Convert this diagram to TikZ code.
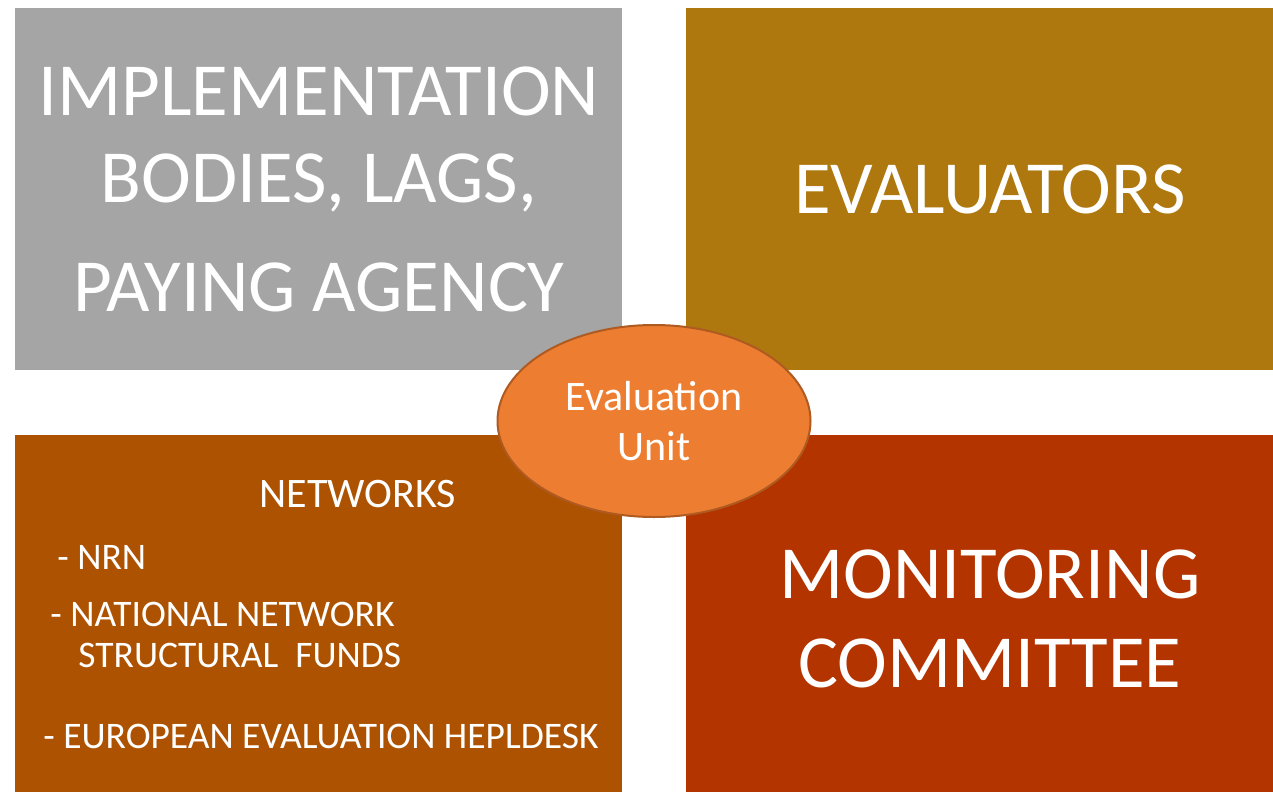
\documentclass[tikz,border=0pt]{standalone}
\usepackage{fontspec}
\setmainfont{Carlito}
\usepackage{xcolor}
\usetikzlibrary{shapes.geometric,positioning}
\definecolor{boxgray}{HTML}{A5A5A5}
\definecolor{boxgold}{HTML}{AE780E}
\definecolor{boxbrown}{HTML}{AD5200}
\definecolor{boxred}{HTML}{B43400}
\definecolor{unitorange}{HTML}{ED7D31}
\definecolor{unitedge}{HTML}{AE5A21}

\begin{document}
\begin{tikzpicture}[x=0.5pt, y=-0.5pt, text=white,
  every node/.style={inner sep=0pt},
  block/.style={anchor=north west, minimum width=303.5pt, minimum height=181pt, align=center},
  bigtext/.style={font=\fontsize{37.5}{43.5}\selectfont, align=center},
  listitem/.style={anchor=base west, font=\fontsize{18.75}{22}\selectfont}]
  \useasboundingbox (0,0) rectangle (1273,792);
  % Boxes
  \node[block, fill=boxgray, bigtext] (impl) at (15,8)
    {IMPLEMENTATION\\BODIES, LAGS,\\[11pt]PAYING AGENCY};
  \node[block, fill=boxgold, minimum width=293.5pt] (eval) at (686,8) {};
  \node[block, fill=boxbrown, minimum height=178.5pt] (netw) at (15,435) {};
  \node[block, fill=boxred, minimum width=293.5pt, minimum height=178.5pt] (moni) at (686,435) {};

  % Box texts
  \node[bigtext] (evaltext) at (990,189) {EVALUATORS};
  \node[bigtext] (monitext) at (990,619) {MONITORING\\[1pt]COMMITTEE};

  % Networks list
  \node[anchor=base, font=\fontsize{21}{25}\selectfont] (title) at (358,507) {NETWORKS};
  \node[listitem] (nrn) at (57,569) {- NRN};
  \node[listitem] (nat) at (50,626) {- NATIONAL NETWORK};
  \node[listitem] (struct) at (78,667) {STRUCTURAL\ \ FUNDS};
  \node[listitem] (help) at (43,748) {- EUROPEAN EVALUATION HEPLDESK};

  % Centre
  \node[ellipse, draw=unitedge, line width=1pt, fill=unitorange, minimum width=156.5pt, minimum height=96pt,
    align=center, font=\fontsize{21}{25}\selectfont] (unit) at (654,421) {Evaluation\\Unit};
\end{tikzpicture}
\end{document}
